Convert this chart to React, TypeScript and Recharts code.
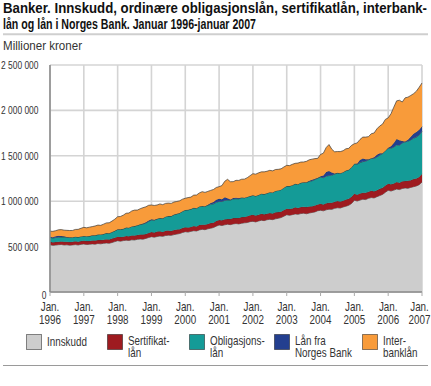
import React from 'react';
import { AreaChart, Area, XAxis, YAxis, CartesianGrid } from 'recharts';

// Values in 1 000 millioner kroner, monthly Jan 1996 - Jan 2007
const years = ['1996', '1997', '1998', '1999', '2000', '2001', '2002', '2003', '2004', '2005', '2006', '2007'];
const yTicks = [0, 500000, 1000000, 1500000, 2000000, 2500000];

const innskudd = [
  520, 514, 517, 521, 523, 518, 520, 516, 519, 522, 518, 525,
  529, 523, 526, 530, 527, 534, 531, 536, 540, 537, 545, 555,
  565, 560, 566, 571, 568, 575, 573, 580, 584, 582, 590, 600,
  609, 604, 611, 617, 613, 622, 626, 624, 632, 638, 644, 655,
  664, 660, 668, 675, 672, 684, 690, 686, 696, 703, 710, 725,
  738, 732, 740, 746, 742, 750, 754, 750, 757, 762, 765, 775,
  778, 772, 782, 790, 786, 796, 800, 797, 806, 812, 820, 835,
  851, 845, 852, 860, 856, 864, 868, 862, 870, 876, 882, 895,
  900, 894, 905, 912, 910, 922, 928, 925, 936, 945, 955, 975,
  1010, 1002, 1012, 1022, 1018, 1032, 1040, 1036, 1050, 1062, 1075, 1098,
  1120, 1112, 1122, 1134, 1128, 1140, 1146, 1142, 1152, 1160, 1168, 1182,
  1212,
];
const sertifikat = [
  34, 33, 35, 32, 34, 36, 33, 35, 34, 37, 35, 36,
  36, 38, 35, 37, 40, 38, 41, 39, 42, 40, 43, 42,
  44, 46, 43, 47, 45, 48, 50, 47, 49, 51, 48, 50,
  52, 50, 54, 51, 49, 53, 50, 48, 52, 49, 47, 50,
  48, 51, 49, 53, 50, 54, 52, 55, 53, 56, 54, 57,
  55, 58, 60, 57, 62, 64, 61, 66, 68, 65, 70, 71,
  73, 70, 68, 72, 69, 66, 70, 67, 71, 68, 65, 69,
  67, 70, 68, 72, 69, 73, 70, 74, 71, 68, 72, 70,
  72, 69, 73, 70, 74, 71, 75, 72, 70, 74, 71, 73,
  73, 70, 74, 71, 75, 72, 76, 73, 70, 74, 72, 75,
  73, 76, 72, 78, 75, 80, 77, 83, 80, 84, 82, 85,
  88,
];
const obligasjon = [
  48, 47, 49, 50, 48, 51, 50, 49, 51, 50, 52, 51,
  52, 54, 55, 57, 58, 60, 62, 64, 67, 70, 73, 77,
  81, 84, 87, 91, 95, 99, 103, 107, 112, 117, 122, 127,
  132, 137, 141, 146, 150, 155, 160, 164, 169, 174, 179, 185,
  191, 194, 196, 199, 201, 203, 205, 204, 206, 208, 207, 206,
  205, 207, 209, 210, 208, 211, 212, 210, 213, 211, 212, 210,
  214, 216, 218, 221, 223, 226, 229, 232, 236, 239, 242, 245,
  249, 252, 256, 259, 263, 266, 270, 273, 277, 281, 285, 290,
  294, 296, 298, 301, 303, 306, 309, 311, 314, 318, 321, 325,
  330, 334, 339, 343, 348, 352, 357, 362, 367, 372, 377, 383,
  390, 396, 402, 408, 414, 422, 430, 436, 442, 450, 456, 462,
  470,
];
const norgesBank = [
  6, 10, 14, 16, 12, 8, 4, 2, 0, 0, 0, 0,
  0, 0, 0, 0, 0, 0, 0, 0, 0, 0, 0, 0,
  0, 0, 0, 0, 0, 0, 0, 0, 0, 4, 8, 10,
  8, 4, 0, 0, 0, 0, 0, 0, 0, 0, 0, 0,
  0, 0, 0, 0, 0, 0, 0, 0, 5, 12, 20, 28,
  30, 25, 35, 20, 8, 10, 12, 8, 4, 0, 0, 0,
  0, 0, 0, 0, 0, 0, 0, 0, 0, 0, 0, 0,
  0, 0, 0, 0, 0, 0, 0, 0, 6, 12, 8, 2,
  10, 25, 45, 50, 30, 5, 0, 0, 0, 0, 0, 0,
  0, 8, 30, 35, 20, 5, 0, 12, 25, 20, 5, 0,
  5, 20, 45, 65, 55, 20, 5, 15, 35, 50, 55, 58,
  55,
];
const interbank = [
  62, 64, 60, 66, 70, 68, 72, 75, 74, 80, 85, 90,
  95, 92, 98, 96, 102, 105, 100, 108, 112, 115, 120, 128,
  139, 142, 150, 158, 162, 170, 176, 168, 172, 175, 170, 168,
  157, 158, 152, 156, 150, 146, 143, 140, 138, 136, 134, 132,
  129, 135, 132, 140, 145, 150, 158, 152, 148, 140, 138, 135,
  132, 150, 175, 208, 195, 180, 191, 195, 200, 205, 212, 225,
  238, 240, 244, 240, 245, 242, 241, 238, 236, 232, 230, 228,
  228, 225, 230, 226, 232, 228, 224, 230, 232, 226, 222, 215,
  239, 245, 270, 291, 255, 240, 235, 238, 236, 240, 235, 242,
  220, 228, 225, 235, 245, 250, 270, 268, 285, 300, 320, 345,
  330, 360, 395, 420, 440, 430, 480, 470, 455, 440, 450, 468,
  477,
];

const seriesKeys = ['innskudd', 'sertifikat', 'obligasjon', 'norgesBank', 'interbank'];
const seriesNames = ['Innskudd', 'Sertifikatlån', 'Obligasjonslån', 'Lån fra Norges Bank', 'Interbanklån'];
const legendLines = [['Innskudd'], ['Sertifikat-', 'lån'], ['Obligasjons-', 'lån'], ['Lån fra', 'Norges Bank'], ['Inter-', 'banklån']];
const colors = ['#cdcdcd', '#9e1b20', '#149b97', '#233f8f', '#f89b3a'];
const titleLines = [
  'Banker. Innskudd, ordinære obligasjonslån, sertifikatlån, interbank-',
  'lån og lån i Norges Bank. Januar 1996-januar 2007',
];
const unitLabel = 'Millioner kroner';

const data = innskudd.map((v, i) => ({
  t: i,
  innskudd: v * 1000,
  sertifikat: sertifikat[i] * 1000,
  obligasjon: obligasjon[i] * 1000,
  norgesBank: norgesBank[i] * 1000,
  interbank: interbank[i] * 1000,
}));
const xTicks = years.map((_, i) => i * 12);

const FONT = "'Liberation Sans', Arial, sans-serif";
const TXT = '#333';
const NARROW = 0.82;
const TITLE_SCALE = 0.85;

const fmt = (v: number) => String(v).replace(/\B(?=(\d{3})+(?!\d))/g, ' ');

function YTick(props: any) {
  const { y, payload } = props;
  const zero = payload.value === 0;
  const tx = zero ? 46.5 : 38.5;
  const ty = y + (zero ? 7 : 4);
  return (
    <text
      transform={`translate(${tx},${ty}) scale(${NARROW},1)`}
      x={0}
      y={0}
      textAnchor="end"
      fontSize={10.3}
      fill={TXT}
      fontFamily={FONT}
    >
      {fmt(payload.value)}
    </text>
  );
}

function XTick(props: any) {
  const { x, payload } = props;
  const cx = Math.min(x, 419.5);
  return (
    <g transform={`translate(${cx},0) scale(${NARROW},1)`}>
      <text textAnchor="middle" fontSize={12} fill={TXT} fontFamily={FONT}>
        <tspan x={0} y={311.5}>Jan.</tspan>
        <tspan x={0} y={324}>{years[Math.round(payload.value / 12)]}</tspan>
      </text>
    </g>
  );
}

const legendBoxX = [26, 107, 189, 274, 362];

export default function App() {
  return (
    <div style={{ position: 'absolute', left: 0, top: 0, width: 431, height: 386, background: '#fff' }}>
      <svg width={431} height={60} style={{ position: 'absolute', left: 0, top: 0 }}>
        <text
          transform={`translate(3,13) scale(${TITLE_SCALE},1)`}
          x={0}
          y={0}
          fontSize={14}
          fontWeight="bold"
          fill="#111"
          fontFamily={FONT}
          textLength={424 / TITLE_SCALE}
          lengthAdjust="spacingAndGlyphs"
        >
          {titleLines[0]}
        </text>
        <text
          transform={`translate(3,28.5) scale(${TITLE_SCALE},1)`}
          x={0}
          y={0}
          fontSize={14}
          fontWeight="bold"
          fill="#111"
          fontFamily={FONT}
          textLength={253 / TITLE_SCALE}
          lengthAdjust="spacingAndGlyphs"
        >
          {titleLines[1]}
        </text>
        <line x1={3} x2={428} y1={34.3} y2={34.3} stroke="#cfcfcf" strokeWidth={2} />
        <text x={3} y={50} fontSize={12} fill={TXT} fontFamily={FONT} textLength={79} lengthAdjust="spacingAndGlyphs">
          {unitLabel}
        </text>
      </svg>
      <div style={{ position: 'absolute', left: 0, top: 0 }}>
        <AreaChart width={431} height={386} data={data} margin={{ top: 65, right: 9, bottom: 64, left: 0 }}>
          <CartesianGrid stroke="#d4d4d4" strokeWidth={1.6} />
          <XAxis
            dataKey="t"
            type="number"
            domain={[0, 132]}
            ticks={xTicks}
            interval={0}
            height={30}
            tick={<XTick />}
            tickSize={4}
            tickLine={{ stroke: '#aaa' }}
            axisLine={{ stroke: '#888', strokeWidth: 1.5 }}
          />
          <YAxis
            type="number"
            domain={[0, 2500000]}
            ticks={yTicks}
            interval={0}
            width={50}
            tick={<YTick />}
            tickLine={false}
            axisLine={{ stroke: '#888', strokeWidth: 1.5 }}
          />
          {seriesKeys.map((k, i) => (
            <Area
              key={k}
              dataKey={k}
              name={seriesNames[i]}
              stackId="a"
              type="linear"
              fill={colors[i]}
              fillOpacity={1}
              stroke="#3a3a3a"
              strokeWidth={0.7}
              dot={false}
              activeDot={false}
              isAnimationActive={false}
            />
          ))}
        </AreaChart>
      </div>
      <svg width={431} height={50} style={{ position: 'absolute', left: 0, top: 325 }}>
        {legendLines.map((lines, i) => (
          <g key={i}>
            <rect x={legendBoxX[i] + 0.5} y={9.5} width={15} height={15} fill={colors[i]} stroke="rgba(0,0,0,0.45)" strokeWidth={1} />
            {lines.map((ln, j) => (
              <text
                key={j}
                transform={`translate(${legendBoxX[i] + 21},${lines.length === 1 ? 20.5 : 19.5 + j * 12.5}) scale(${NARROW},1)`}
                x={0}
                y={0}
                fontSize={12}
                fill={TXT}
                fontFamily={FONT}
              >
                {ln}
              </text>
            ))}
          </g>
        ))}
        <line x1={3} x2={428} y1={40.5} y2={40.5} stroke="#9a9a9a" strokeWidth={1} />
      </svg>
    </div>
  );
}
